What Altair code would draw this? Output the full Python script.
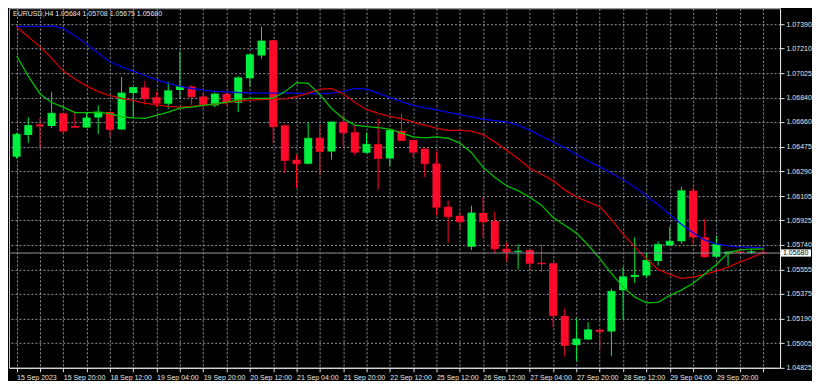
import altair as alt
import pandas as pd

# ---- data ----
bars = list(range(65))
opens = [1.06399, 1.06563, 1.06640, 1.06629, 1.06724, 1.06629, 1.06619, 1.06693, 1.06734, 1.06604,
         1.06876, 1.06917, 1.06844, 1.06795, 1.06898, 1.06925, 1.06851, 1.06783, 1.06869, 1.06803,
         1.06986, 1.07157, 1.07270, 1.06636, 1.06377, 1.06348, 1.06541, 1.06438, 1.06660, 1.06582,
         1.06430, 1.06494, 1.06386, 1.06594, 1.06524, 1.06460, 1.06350, 1.06025, 1.05958, 1.05726,
         1.05980, 1.05919, 1.05711, 1.05687, 1.05702, 1.05608, 1.05603, 1.05210, 1.04992, 1.05033,
         1.05107, 1.05094, 1.05401, 1.05500, 1.05511, 1.05621, 1.05738, 1.05768, 1.06146, 1.05797,
         1.05652, 1.05677, 1.05691, 1.05684, 1.05684]
highs = [1.06577, 1.06695, 1.06687, 1.06886, 1.06728, 1.06739, 1.06734, 1.06783, 1.06739, 1.06996,
         1.06921, 1.06966, 1.06886, 1.06959, 1.07187, 1.06935, 1.06871, 1.06880, 1.06878, 1.07003,
         1.07165, 1.07370, 1.07273, 1.06640, 1.06416, 1.06653, 1.06641, 1.06664, 1.06715, 1.06641,
         1.06579, 1.06685, 1.06601, 1.06722, 1.06527, 1.06464, 1.06440, 1.06073, 1.05988, 1.06034,
         1.06098, 1.05988, 1.05760, 1.05743, 1.05705, 1.05743, 1.05607, 1.05265, 1.05192, 1.05163,
         1.05111, 1.05412, 1.05577, 1.05797, 1.05682, 1.05768, 1.05878, 1.06176, 1.06171, 1.05933,
         1.05808, 1.05691, 1.05706, 1.05712, 1.05708]
lows = [1.06386, 1.06504, 1.06460, 1.06614, 1.06570, 1.06618, 1.06616, 1.06570, 1.06548, 1.06601,
        1.06690, 1.06790, 1.06770, 1.06759, 1.06832, 1.06788, 1.06761, 1.06770, 1.06788, 1.06734,
        1.06925, 1.07133, 1.06502, 1.06276, 1.06166, 1.06342, 1.06262, 1.06379, 1.06477, 1.06411,
        1.06427, 1.06154, 1.06330, 1.06517, 1.06392, 1.06247, 1.05963, 1.05755, 1.05858, 1.05702,
        1.05792, 1.05677, 1.05621, 1.05559, 1.05547, 1.05535, 1.05126, 1.04906, 1.04874, 1.05030,
        1.04960, 1.04911, 1.05180, 1.05456, 1.05498, 1.05584, 1.05735, 1.05750, 1.05750, 1.05645,
        1.05649, 1.05584, 1.05682, 1.05672, 1.05675]
closes = [1.06568, 1.06634, 1.06629, 1.06724, 1.06592, 1.06621, 1.06690, 1.06734, 1.06604, 1.06876,
          1.06917, 1.06836, 1.06800, 1.06893, 1.06925, 1.06849, 1.06788, 1.06869, 1.06807, 1.06991,
          1.07162, 1.07265, 1.06624, 1.06372, 1.06348, 1.06538, 1.06438, 1.06660, 1.06579, 1.06433,
          1.06494, 1.06386, 1.06597, 1.06521, 1.06433, 1.06348, 1.06023, 1.05951, 1.05914, 1.05980,
          1.05914, 1.05711, 1.05687, 1.05694, 1.05603, 1.05599, 1.05212, 1.04989, 1.05038, 1.05107,
          1.05094, 1.05395, 1.05503, 1.05513, 1.05625, 1.05743, 1.05768, 1.06146, 1.05799, 1.05652,
          1.05743, 1.05687, 1.05684, 1.05690, 1.05680]

ma_fast = [1.07155, 1.07003, 1.06871, 1.06805, 1.06770, 1.06729, 1.06729, 1.06731, 1.06722, 1.06697,
           1.06690, 1.06687, 1.06709, 1.06734, 1.06763, 1.06770, 1.06783, 1.06797, 1.06807, 1.06827,
           1.06836, 1.06836, 1.06836, 1.06886, 1.06954, 1.06948, 1.06864, 1.06761, 1.06685, 1.06636,
           1.06625, 1.06618, 1.06607, 1.06577, 1.06548, 1.06541, 1.06548, 1.06538, 1.06502, 1.06430,
           1.06320, 1.06247, 1.06183, 1.06146, 1.06097, 1.06038, 1.05946, 1.05887, 1.05829, 1.05740,
           1.05638, 1.05528, 1.05425, 1.05351, 1.05307, 1.05311, 1.05362, 1.05403, 1.05454, 1.05524,
           1.05594, 1.05682, 1.05704, 1.05709, 1.05711]
ma_mid = [1.07370, 1.07297, 1.07223, 1.07137, 1.07040, 1.06981, 1.06930, 1.06886, 1.06856, 1.06836,
          1.06820, 1.06801, 1.06787, 1.06776, 1.06770, 1.06776, 1.06783, 1.06794, 1.06805, 1.06816,
          1.06823, 1.06827, 1.06831, 1.06832, 1.06849, 1.06875, 1.06904, 1.06911, 1.06871, 1.06805,
          1.06753, 1.06724, 1.06702, 1.06684, 1.06658, 1.06636, 1.06614, 1.06596, 1.06599, 1.06592,
          1.06566, 1.06511, 1.06449, 1.06386, 1.06313, 1.06269, 1.06221, 1.06152, 1.06100, 1.06063,
          1.06027, 1.05931, 1.05821, 1.05726, 1.05638, 1.05557, 1.05520, 1.05491, 1.05500, 1.05520,
          1.05544, 1.05575, 1.05612, 1.05645, 1.05682]
ma_slow = [1.07370, 1.07374, 1.07375, 1.07378, 1.07359, 1.07304, 1.07242, 1.07174, 1.07110, 1.07072,
           1.07040, 1.07007, 1.06977, 1.06949, 1.06926, 1.06910, 1.06897, 1.06889, 1.06884, 1.06880,
           1.06878, 1.06876, 1.06876, 1.06876, 1.06876, 1.06872, 1.06871, 1.06876, 1.06886, 1.06910,
           1.06906, 1.06876, 1.06841, 1.06812, 1.06783, 1.06765, 1.06750, 1.06731, 1.06715, 1.06698,
           1.06680, 1.06669, 1.06660, 1.06636, 1.06599, 1.06555, 1.06511, 1.06467, 1.06416, 1.06368,
           1.06324, 1.06276, 1.06228, 1.06173, 1.06107, 1.06041, 1.05968, 1.05895, 1.05832, 1.05777,
           1.05748, 1.05733, 1.05726, 1.05722, 1.05718]

y_ticks = [1.07390, 1.07210, 1.07025, 1.06840, 1.06660, 1.06475, 1.06290, 1.06105,
           1.05925, 1.05740, 1.05555, 1.05375, 1.05190, 1.05005, 1.04825]
x_labels = ["15 Sep 2023", "15 Sep 20:00", "18 Sep 12:00", "19 Sep 04:00", "19 Sep 20:00",
            "20 Sep 12:00", "21 Sep 04:00", "21 Sep 20:00", "22 Sep 12:00", "25 Sep 12:00",
            "26 Sep 12:00", "27 Sep 04:00", "27 Sep 20:00", "28 Sep 12:00", "29 Sep 04:00",
            "29 Sep 20:00"]
current_price = [1.05680]
title_text = ["EURUSD,H4  1.05684 1.05708 1.05675 1.05680"]

# ---- styling ----
W, H = 772, 360
FONT = "Liberation Sans"
FS = 7
GREEN = "#00f040"
RED = "#ff0a2a"
GRID = "#8e97a3"
FG = "#e6e6e6"

candles = pd.DataFrame({"idx": bars, "open": opens, "high": highs, "low": lows, "close": closes})
mas = pd.DataFrame({"idx": bars, "fast": ma_fast, "mid": ma_mid, "slow": ma_slow})
price_df = pd.DataFrame({"price": current_price})
title_df = pd.DataFrame({"t": title_text})

x_scale = alt.Scale(domain=[-0.224, 65.03], nice=False, zero=False)
y_scale = alt.Scale(domain=[1.04822, 1.07510], nice=False, zero=False)

grid_vals = list(range(0, 65, 2))
lab_arr = [x_labels[v // 4] if v % 4 == 0 and v // 4 < len(x_labels) else "" for v in grid_vals]
label_expr = "[" + ",".join("'%s'" % s for s in lab_arr) + "][datum.value / 2]"

x_axis = alt.Axis(values=grid_vals, labelExpr=label_expr, title=None, grid=True,
                  gridColor=GRID, gridDash=[2, 2], gridWidth=1, tickColor=FG, tickSize=4,
                  labelAlign="left", labelPadding=2, labelColor=FG, labelFontSize=FS,
                  labelFont=FONT, labelOverlap=False, labelFlush=False, domainColor=FG)
y_axis = alt.Axis(orient="right", values=y_ticks, format=".5f", title=None, grid=True,
                  gridColor=GRID, gridDash=[2, 2], gridWidth=1, tickColor=FG, tickSize=4,
                  labelPadding=2, labelColor=FG, labelFontSize=FS, labelFont=FONT,
                  labelOverlap=False, domainColor=FG)


def X():
    return alt.X("idx:Q", scale=x_scale, axis=x_axis)


def Y(field):
    return alt.Y(field, scale=y_scale, axis=y_axis)


base = alt.Chart(candles)
up = base.transform_filter("datum.close >= datum.open")
down = base.transform_filter("datum.close < datum.open")

layers = []
for sub, col in ((up, GREEN), (down, RED)):
    layers.append(sub.mark_rule(color=col, strokeWidth=1, clip=True).encode(
        x=X(), y=Y("low:Q"), y2="high:Q"))
    layers.append(sub.mark_bar(color=col, size=8, clip=True).encode(
        x=X(), y=Y("open:Q"), y2="close:Q"))
    layers.append(sub.mark_tick(color=col, orient="horizontal", thickness=1, size=8, clip=True).encode(
        x=X(), y=Y("close:Q")))

ma_base = alt.Chart(mas)
layers.append(ma_base.mark_line(color="#0000e0", strokeWidth=1.3).encode(x=X(), y=Y("slow:Q")))
layers.append(ma_base.mark_line(color="#d00000", strokeWidth=1.3).encode(x=X(), y=Y("mid:Q")))
layers.append(ma_base.mark_line(color="#00c000", strokeWidth=1.3).encode(x=X(), y=Y("fast:Q")))

pbase = alt.Chart(price_df)
layers.append(pbase.mark_rule(color="#8c949e", strokeWidth=1).encode(y=Y("price:Q")))
layers.append(pbase.transform_calculate(top="datum.price + 0.00027", bot="datum.price - 0.00027")
              .mark_rect(color="white").encode(x=alt.value(W + 1), x2=alt.value(W + 31),
                                                 y=Y("top:Q"), y2="bot:Q"))
layers.append(pbase.mark_text(color="black", align="left", baseline="middle", font=FONT,
                              fontSize=FS).encode(x=alt.value(W + 3), y=Y("price:Q"),
                                                  text=alt.Text("price:Q", format=".5f")))

layers.append(alt.Chart(title_df).mark_text(color=FG, align="left", baseline="top", font=FONT,
                                            fontSize=FS).encode(x=alt.value(4), y=alt.value(2),
                                                                text="t:N"))

chart = alt.layer(*layers).properties(
    width=W, height=H, background="black", padding=0
).configure_view(stroke="#c8c8c8", strokeWidth=1, fill="black")

chart.save("out.html", embed_options={"renderer": "svg", "actions": False})
